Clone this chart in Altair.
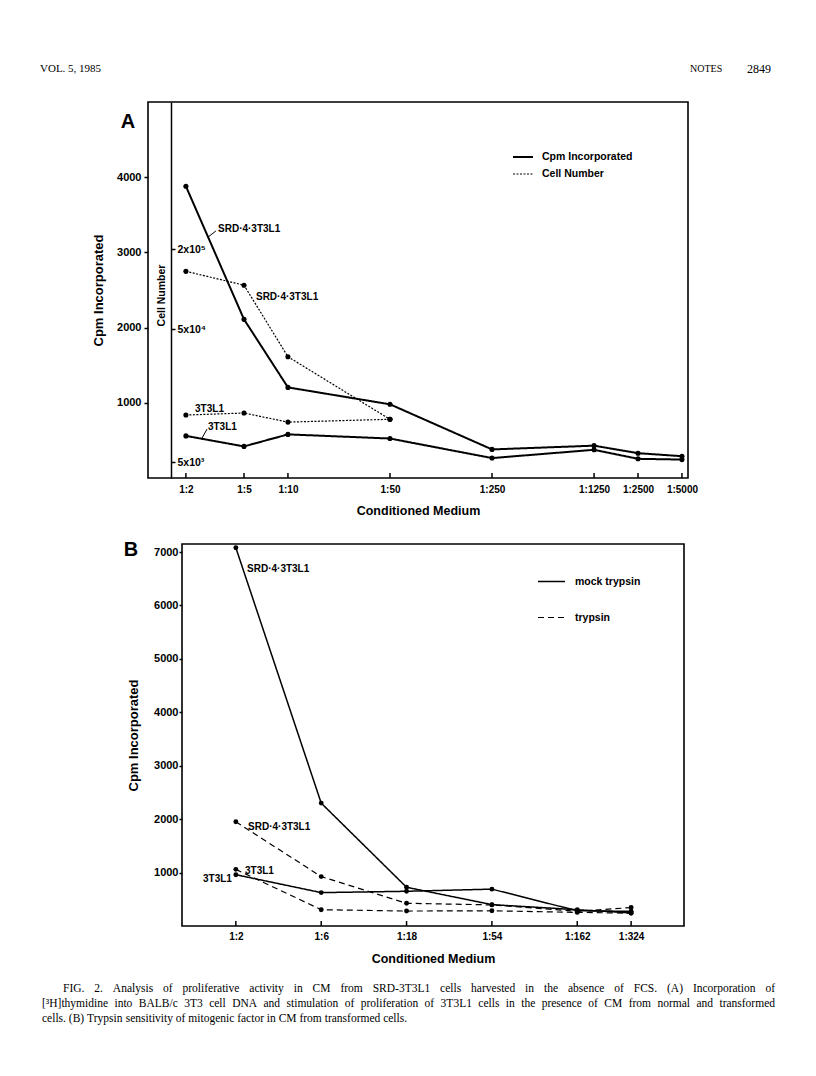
import altair as alt
import pandas as pd

SANS = "Liberation Sans"
SERIF = "Liberation Serif"

# ---------------- Panel A data ----------------
a_dilution = [2, 5, 10, 50, 250, 1250, 2500, 5000]
a_tick_labels = ["1:2", "1:5", "1:10", "1:50", "1:250", "1:1250", "1:2500", "1:5000"]
a_cpm_srd = [3880, 2110, 1205, 980, 380, 430, 330, 290]
a_cpm_3t3 = [560, 420, 580, 525, 265, 375, 255, 245]
a_cpm_ticks = [1000, 2000, 3000, 4000]

a_cell_dilution = [2, 5, 10, 50]
a_cells_srd = [136000, 107000, 31000, 10500]
a_cells_3t3 = [11300, 11700, 10000, 10500]
a_cell_ticks = [5000, 50000, 200000]
a_cell_tick_labels = ["5x10³", "5x10⁴", "2x10⁵"]

a_measures = ["Cpm Incorporated", "Cell Number"]

# series labels (dilution, cpm, text)
a_ann_x = [3.32, 6.04, 2.31, 2.83]
a_ann_y = [3310, 2410, 920, 680]
a_ann_text = ["SRD·4·3T3L1", "SRD·4·3T3L1", "3T3L1", "3T3L1"]
# leader lines
a_lead_x = [2.82, 2.57]
a_lead_y = [3200, 525]
a_lead_x2 = [3.21, 2.79]
a_lead_y2 = [3285, 650]

# ---------------- Panel B data ----------------
b_dilution = [2, 6, 18, 54, 162, 324]
b_tick_labels = ["1:2", "1:6", "1:18", "1:54", "1:162", "1:324"]
b_mock_srd = [7080, 2300, 725, 400, 305, 245]
b_mock_3t3 = [960, 625, 650, 690, 285, 275]
b_tryp_srd = [1950, 925, 425, 395, 275, 345]
b_tryp_3t3 = [1060, 305, 280, 285, 255, 240]
b_cpm_ticks = [1000, 2000, 3000, 4000, 5000, 6000, 7000]
b_treatments = ["mock trypsin", "trypsin"]

b_ann_x = [2.31, 2.34, 2.25]
b_ann_y = [6680, 1850, 1030]
b_ann_text = ["SRD·4·3T3L1", "SRD·4·3T3L1", "3T3L1"]
b_ann_right_x = [1.90]
b_ann_right_y = [880]
b_ann_right_text = ["3T3L1"]

header_left = "VOL. 5, 1985"
header_mid = "NOTES"
header_right = "2849"
caption = [
    "FIG. 2. Analysis of proliferative activity in CM from SRD-3T3L1 cells harvested in the absence of FCS. (A) Incorporation of",
    "[³H]thymidine into BALB/c 3T3 cell DNA and stimulation of proliferation of 3T3L1 cells in the presence of CM from normal and transformed",
    "cells. (B) Trypsin sensitivity of mitogenic factor in CM from transformed cells.",
]

# Times-Roman advance widths (1/1000 em) used to justify the caption lines
TIMES = {" ": 250, "a": 444, "b": 500, "c": 444, "d": 500, "e": 444, "f": 333, "g": 500, "h": 500,
         "i": 278, "j": 278, "k": 500, "l": 278, "m": 778, "n": 500, "o": 500, "p": 500, "q": 500,
         "r": 333, "s": 389, "t": 278, "u": 500, "v": 500, "w": 722, "x": 500, "y": 500, "z": 444,
         "A": 722, "B": 667, "C": 667, "D": 722, "E": 611, "F": 556, "G": 722, "H": 722, "I": 333,
         "J": 389, "K": 722, "L": 611, "M": 889, "N": 722, "O": 722, "P": 556, "Q": 722, "R": 667,
         "S": 556, "T": 611, "U": 722, "V": 722, "W": 944, "X": 722, "Y": 722, "Z": 611,
         ".": 250, ",": 250, ":": 278, "(": 333, ")": 333, "[": 333, "]": 333, "-": 333, "/": 278,
         "³": 300}


def long_df(dil, series, extra):
    rows = []
    for name, vals in series.items():
        for d, v in zip(dil, vals):
            r = {"dilution": d, "value": v, "series": name}
            r.update(extra)
            rows.append(r)
    return pd.DataFrame(rows)


def tick_expr(values, labels):
    expr = "'" + labels[-1] + "'"
    for v, l in reversed(list(zip(values[:-1], labels[:-1]))):
        expr = "datum.value == " + str(v) + " ? '" + l + "' : " + expr
    return expr


def txt(s, x, y, size, font=SANS, weight="bold", align="left"):
    return alt.Chart(pd.DataFrame({"t": [s]})).mark_text(
        align=align, baseline="middle", font=font, fontSize=size,
        fontWeight=weight, color="black"
    ).encode(x=alt.value(x), y=alt.value(y), text="t:N")


lab = dict(labelFont=SANS, labelFontWeight="bold", labelColor="black",
           titleFont=SANS, titleFontWeight="bold", titleColor="black", grid=False)

# ================= Panel A =================
WA, HA = 540, 376
xsA = alt.Scale(type="log", domain=[1.1, 5500])
ysA = alt.Scale(domain=[0, 5000])
ysCell = alt.Scale(type="log", domain=[3800, 2550000])

cpmA = long_df(a_dilution, {"SRD": a_cpm_srd, "3T3L1": a_cpm_3t3}, {"measure": a_measures[0]})
cellA = long_df(a_cell_dilution, {"SRD": a_cells_srd, "3T3L1": a_cells_3t3}, {"measure": a_measures[1]})

dashA = alt.Scale(domain=a_measures, range=[[1, 0], [2, 1.5]])
widthA = alt.Scale(domain=a_measures, range=[2, 1.2])
legendA = alt.Legend(title=None, orient="none", legendX=364, legendY=44, symbolType="stroke",
                     symbolSize=400, symbolStrokeColor="black", symbolStrokeWidth=1.6,
                     labelFont=SANS, labelFontSize=10.5, labelFontWeight="bold", labelColor="black",
                     labelOffset=8, rowPadding=-9, padding=0)

x_axis_A = alt.Axis(values=a_dilution, labelExpr=tick_expr(a_dilution, a_tick_labels), ticks=False,
                    domain=False, labelPadding=6, labelFontSize=10, labelOverlap=False, labelFlush=False,
                    title="Conditioned Medium", titleFontSize=12.5, titlePadding=10, **lab)
y_axis_A = alt.Axis(values=a_cpm_ticks, format="d", domain=False, tickSize=4, tickWidth=1.5,
                    tickColor="black", labelPadding=3, labelFontSize=11, title="Cpm Incorporated",
                    titleFontSize=13, titlePadding=11, **lab)
y_axis_cell = alt.Axis(orient="right", offset=-(WA - 23), values=a_cell_ticks,
                       labelExpr=tick_expr(a_cell_ticks, a_cell_tick_labels), domain=True,
                       domainColor="black", domainWidth=1.5, tickSize=4, tickWidth=1.5, tickColor="black",
                       labelPadding=2, labelFontSize=10.5, title="Cell Number", titleAngle=270,
                       titleX=-10, titleY=193, titleAlign="center", titleBaseline="middle",
                       titleFontSize=10.5, **lab)

xA = lambda f: alt.X(f, scale=xsA, axis=x_axis_A)
yA = lambda f: alt.Y(f, scale=ysA, axis=y_axis_A)
yC = lambda f: alt.Y(f, scale=ysCell, axis=y_axis_cell)

one = pd.DataFrame({"k": [0]})
frameA = alt.Chart(one).mark_rect(fillOpacity=0, stroke="black", strokeWidth=1.6).encode(
    x=alt.value(0), x2=alt.value(WA), y=alt.value(0), y2=alt.value(HA))
ticksA = alt.Chart(pd.DataFrame({"dilution": a_dilution})).mark_rule(color="black", strokeWidth=1.5).encode(
    x=xA("dilution:Q"), y=alt.value(HA - 5), y2=alt.value(HA))

lineA = alt.Chart(cpmA).mark_line(color="black").encode(
    x=xA("dilution:Q"), y=yA("value:Q"), detail="series:N",
    strokeDash=alt.StrokeDash("measure:N", scale=dashA, legend=legendA),
    strokeWidth=alt.StrokeWidth("measure:N", scale=widthA, legend=None))
ptsA = alt.Chart(cpmA).mark_point(filled=True, color="black", size=26, opacity=1).encode(
    x=xA("dilution:Q"), y=yA("value:Q"))
annA = alt.Chart(pd.DataFrame({"x": a_ann_x, "y": a_ann_y, "t": a_ann_text})).mark_text(
    align="left", baseline="middle", font=SANS, fontSize=10, fontWeight="bold", color="black").encode(
    x=xA("x:Q"), y=yA("y:Q"), text="t:N")
leadA = alt.Chart(pd.DataFrame({"x": a_lead_x, "y": a_lead_y, "x2": a_lead_x2, "y2": a_lead_y2})).mark_rule(
    color="black", strokeWidth=1).encode(x=xA("x:Q"), x2="x2:Q", y=yA("y:Q"), y2="y2:Q")

cellLine = alt.Chart(cellA).mark_line(color="black").encode(
    x=xA("dilution:Q"), y=yC("value:Q"), detail="series:N",
    strokeDash=alt.StrokeDash("measure:N", scale=dashA, legend=legendA),
    strokeWidth=alt.StrokeWidth("measure:N", scale=widthA, legend=None))
cellPts = alt.Chart(cellA).mark_point(filled=True, color="black", size=26, opacity=1).encode(
    x=xA("dilution:Q"), y=yC("value:Q"))

groupA1 = alt.layer(frameA, ticksA, lineA, ptsA, leadA, annA,
                    txt("A", -20, 20, 20, align="center"),
                    txt(header_left, -108, -33, 11, font=SERIF, weight="normal"),
                    txt(header_mid, 542, -33, 10, font=SERIF, weight="normal"),
                    txt(header_right, 599, -33, 12, font=SERIF, weight="normal"))
groupA2 = alt.layer(cellLine, cellPts)
panelA = alt.layer(groupA1, groupA2).resolve_scale(y="independent").properties(width=WA, height=HA)

# ================= Panel B =================
WB, HB = 536, 382
xsB = alt.Scale(type="log", domain=[1, 640], range=[34, WB])
ysB = alt.Scale(domain=[0, 7150])

dfB = pd.concat([
    long_df(b_dilution, {"SRD": b_mock_srd, "3T3L1": b_mock_3t3}, {"treatment": b_treatments[0]}),
    long_df(b_dilution, {"SRD": b_tryp_srd, "3T3L1": b_tryp_3t3}, {"treatment": b_treatments[1]}),
], ignore_index=True)
dfB["key"] = dfB["series"] + "-" + dfB["treatment"]

dashB = alt.Scale(domain=b_treatments, range=[[1, 0], [6, 4]])
widthB = alt.Scale(domain=b_treatments, range=[1.5, 1.2])
legendB = alt.Legend(title=None, orient="none", legendX=389, legendY=23, symbolType="stroke",
                     symbolSize=729, symbolStrokeColor="black", symbolStrokeWidth=1.4,
                     labelFont=SANS, labelFontSize=10.5, labelFontWeight="bold", labelColor="black",
                     labelOffset=9, rowPadding=16, padding=0)

x_axis_B = alt.Axis(values=b_dilution, labelExpr=tick_expr(b_dilution, b_tick_labels), ticks=False,
                    domain=False, labelPadding=5, labelFontSize=10, labelOverlap=False, labelFlush=False,
                    title="Conditioned Medium", titleFontSize=12.5, titlePadding=11, **lab)
y_axis_B = alt.Axis(values=b_cpm_ticks, format="d", offset=-34, domain=False, tickSize=3, tickWidth=1.5,
                    tickColor="black", labelPadding=1, labelFontSize=11, title="Cpm Incorporated",
                    titleFontSize=13, titlePadding=13, **lab)
xB = lambda f: alt.X(f, scale=xsB, axis=x_axis_B)
yB = lambda f: alt.Y(f, scale=ysB, axis=y_axis_B)

frameB = alt.Chart(one).mark_rect(fillOpacity=0, stroke="black", strokeWidth=1.6).encode(
    x=alt.value(34), x2=alt.value(WB), y=alt.value(0), y2=alt.value(HB))
ticksB = alt.Chart(pd.DataFrame({"dilution": b_dilution})).mark_rule(color="black", strokeWidth=1.5).encode(
    x=xB("dilution:Q"), y=alt.value(HB - 5), y2=alt.value(HB))
lineB = alt.Chart(dfB).mark_line(color="black").encode(
    x=xB("dilution:Q"), y=yB("value:Q"), detail="key:N",
    strokeDash=alt.StrokeDash("treatment:N", scale=dashB, legend=legendB),
    strokeWidth=alt.StrokeWidth("treatment:N", scale=widthB, legend=None))
ptsB = alt.Chart(dfB).mark_point(filled=True, color="black", size=24, opacity=1).encode(
    x=xB("dilution:Q"), y=yB("value:Q"))
annB = alt.Chart(pd.DataFrame({"x": b_ann_x, "y": b_ann_y, "t": b_ann_text})).mark_text(
    align="left", baseline="middle", font=SANS, fontSize=10, fontWeight="bold", color="black").encode(
    x=xB("x:Q"), y=yB("y:Q"), text="t:N")
annB2 = alt.Chart(pd.DataFrame({"x": b_ann_right_x, "y": b_ann_right_y, "t": b_ann_right_text})).mark_text(
    align="right", baseline="middle", font=SANS, fontSize=10, fontWeight="bold", color="black").encode(
    x=xB("x:Q"), y=yB("y:Q"), text="t:N")

# justified caption: words placed by measured Times widths (page-relative pixels)
CAP_SIZE = 11.5
cap_rows = []
cap_starts = [63 - 148, 42 - 148, 42 - 148]
cap_end = 775 - 148
for i, line in enumerate(caption):
    words = line.split(" ")
    widths = [sum(TIMES.get(c, 500) for c in w) / 1000 * CAP_SIZE for w in words]
    if i < len(caption) - 1:
        gap = (cap_end - cap_starts[i] - sum(widths)) / (len(words) - 1)
    else:
        gap = TIMES[" "] / 1000 * CAP_SIZE
    xpos = cap_starts[i]
    for w, wd in zip(words, widths):
        cap_rows.append({"w": w, "px": xpos, "py": 445 + 15 * i})
        xpos += wd + gap
capB = alt.Chart(pd.DataFrame(cap_rows)).mark_text(
    align="left", baseline="middle", font=SERIF, fontSize=CAP_SIZE, color="black").encode(
    x=alt.X("px:Q", scale=None), y=alt.Y("py:Q", scale=None), text="w:N")

panelB = alt.layer(frameB, ticksB, lineB, ptsB, annB, annB2,
                   txt("B", -17, 6, 20, align="center"), capB).properties(width=WB, height=HB)

chart = alt.vconcat(panelA, panelB, spacing=23).resolve_scale(
    strokeDash="independent", strokeWidth="independent"
).properties(
    padding={"left": 32, "top": 55, "right": 0, "bottom": 0}
).configure_view(strokeWidth=0)

chart.save("out.html", embed_options={"renderer": "svg", "actions": False})
